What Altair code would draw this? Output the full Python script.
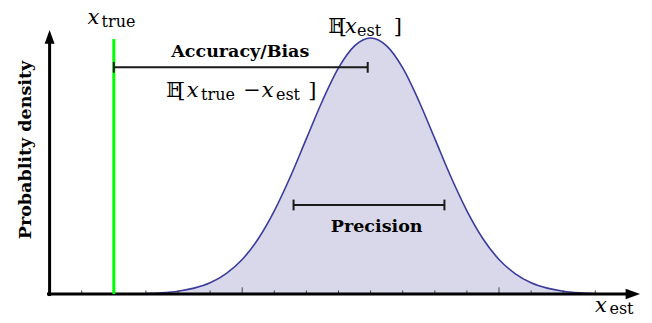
import altair as alt
import pandas as pd

# ---- data ----
x_grid = [3.0, 3.5, 4.0, 4.5, 5.0, 5.5, 6.0, 6.5, 7.0, 7.5, 8.0, 8.5, 9.0, 9.5, 10.0,
          10.5, 11.0, 11.5, 12.0, 12.5, 13.0, 13.5, 14.0, 14.5, 15.0, 15.5, 16.0, 16.5, 17.0]
density = [0.002, 0.005, 0.011, 0.023, 0.044, 0.080, 0.135, 0.216, 0.325, 0.458, 0.607,
           0.755, 0.883, 0.969, 1.000, 0.969, 0.883, 0.755, 0.607, 0.458, 0.325, 0.216,
           0.135, 0.080, 0.044, 0.023, 0.011, 0.005, 0.002]
x_true = 2.0
x_mean = 10.0
precision_lo = 7.6
precision_hi = 12.3
tick_positions = list(range(1, 18))
major_ticks = [6, 14]

# ---- layout (data units) ----
X = alt.Scale(domain=[-1.296, 18.517], nice=False, zero=False)
Y = alt.Scale(domain=[-0.082, 1.1172], nice=False, zero=False)
bias_y = 0.8855
prec_y = 0.3477
cap = 0.021
ink = "#1a1a1a"
serif = "DejaVu Serif"


def xq(f="x"):
    return alt.X(f + ":Q", scale=X, axis=None)


def yq(f="y"):
    return alt.Y(f + ":Q", scale=Y, axis=None)


curve = pd.DataFrame({"x": x_grid, "y": density})
area = alt.Chart(curve).mark_area(color="#d8d8ea", interpolate="monotone").encode(x=xq(), y=yq())
line = alt.Chart(curve).mark_line(color="#3b3b9c", strokeWidth=1.6, interpolate="monotone").encode(
    x=xq(), y=yq())

ticks = pd.DataFrame({"x": tick_positions,
                      "y": [0.0] * len(tick_positions),
                      "h": [0.026 if t in major_ticks else 0.014 for t in tick_positions]})
tick_rules = alt.Chart(ticks).mark_rule(color="#444", strokeWidth=1).encode(
    x=xq(), y=yq(), y2="h:Q")

xaxis = alt.Chart(pd.DataFrame({"x": [-0.08], "x2": [18.05], "y": [0.0]})).mark_rule(
    color="black", strokeWidth=3).encode(x=xq(), x2="x2:Q", y=yq())
yaxis = alt.Chart(pd.DataFrame({"x": [0.0], "y": [-0.008], "y2": [0.985]})).mark_rule(
    color="black", strokeWidth=3).encode(x=xq(), y=yq(), y2="y2:Q")
xarrow = alt.Chart(pd.DataFrame({"x": [18.17], "y": [0.0]})).mark_point(
    shape="M-1,-0.72L1,0L-1,0.72Z", filled=True, color="black", size=210, opacity=1).encode(
    x=xq(), y=yq())
yarrow = alt.Chart(pd.DataFrame({"x": [0.0], "y": [1.004]})).mark_point(
    shape="M-0.72,1L0,-1L0.72,1Z", filled=True, color="black", size=190, opacity=1).encode(
    x=xq(), y=yq())

green = alt.Chart(pd.DataFrame({"x": [x_true], "y": [0.0], "y2": [0.996]})).mark_rule(
    color="#00ff00", strokeWidth=3).encode(x=xq(), y=yq(), y2="y2:Q")

bars = pd.DataFrame({"x": [x_true, precision_lo], "x2": [x_mean - 0.09, precision_hi],
                     "y": [bias_y, prec_y]})
bar_rules = alt.Chart(bars).mark_rule(color=ink, strokeWidth=2).encode(
    x=xq(), x2="x2:Q", y=yq())
caps = pd.DataFrame({"x": [x_true, x_mean - 0.09, precision_lo, precision_hi],
                     "y": [bias_y - cap, bias_y - cap, prec_y - cap, prec_y - cap],
                     "y2": [bias_y + cap, bias_y + cap, prec_y + cap, prec_y + cap]})
cap_rules = alt.Chart(caps).mark_rule(color=ink, strokeWidth=2).encode(
    x=xq(), y=yq(), y2="y2:Q")

# ---- text pieces ----
italic_txt = pd.DataFrame({
    "t": ["x", "x", "x", "x", "x"],
    "x": [1.18, 9.20, 4.27, 6.61, 16.99],
    "y": [1.055, 1.02, 0.7676, 0.7676, -0.072],
})
sub_txt = pd.DataFrame({
    "t": ["true", "est", "true", "est", "est"],
    "x": [1.62, 9.58, 4.72, 7.05, 17.44],
    "y": [1.043, 1.008, 0.756, 0.756, -0.080],
})
reg_txt = pd.DataFrame({
    "t": ["[", "]", "[", "\u2212", "]"],
    "x": [9.01, 10.72, 3.98, 6.03, 8.06],
    "y": [1.02, 1.02, 0.7676, 0.7676, 0.7676],
})
bb_txt = pd.DataFrame({"t": ["\U0001D53C", "\U0001D53C"], "x": [8.68, 3.63], "y": [1.02, 0.7676]})
bold_txt = pd.DataFrame({"t": ["Accuracy/Bias", "Precision"], "x": [5.94, 10.19], "y": [0.927, 0.241]})
ylab = pd.DataFrame({"t": ["Probablity density"], "x": [-0.735], "y": [0.5625]})


def txt(df, **kw):
    return alt.Chart(df).mark_text(color="black", **kw).encode(x=xq(), y=yq(), text="t:N")


t_it = txt(italic_txt, font=serif, fontStyle="italic", fontSize=21, align="left",
           baseline="alphabetic")
t_sub = txt(sub_txt, font=serif, fontSize=16, align="left", baseline="alphabetic")
t_reg = txt(reg_txt, font=serif, fontSize=21, align="left", baseline="alphabetic")
t_bb = txt(bb_txt, font="DejaVu Serif, DejaVu Sans", fontSize=20, align="left", baseline="alphabetic")
t_bold = txt(bold_txt, font=serif, fontWeight="bold", fontSize=17.5, align="center",
             baseline="alphabetic")
t_ylab = txt(ylab, font=serif, fontWeight="bold", fontSize=17.5, angle=270,
             align="center", baseline="middle")

chart = alt.layer(area, line, tick_rules, xaxis, yaxis, xarrow, yarrow, green,
                  bar_rules, cap_rules, t_it, t_sub, t_reg, t_bb, t_bold, t_ylab).properties(
    width=636, height=307, padding=0,
    autosize=alt.AutoSizeParams(type="none"),
).configure_view(strokeWidth=0)

chart.save("out.html", embed_options={"renderer": "svg", "actions": False})
